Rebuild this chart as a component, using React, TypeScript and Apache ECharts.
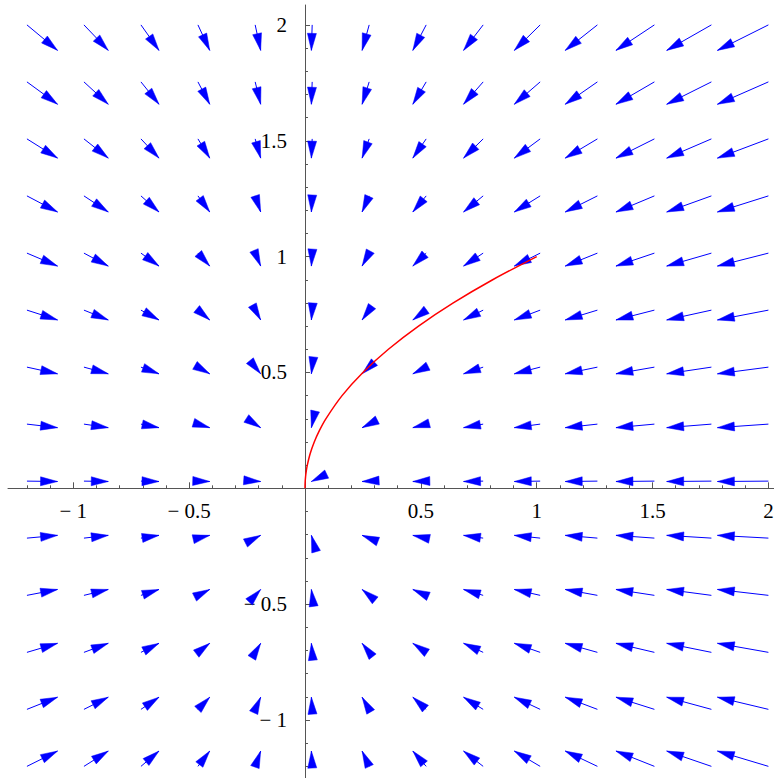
import React, { useEffect, useRef } from "react";
import * as echarts from "echarts";

// ---- data ----
// grid of arrow tails (same for x and y)
const colX = [-1.2, -0.954, -0.708, -0.462, -0.215, 0.031, 0.277, 0.523, 0.769, 1.015, 1.262, 1.508, 1.754, 2.0];
const rowY = [-1.2, -0.954, -0.708, -0.462, -0.215, 0.031, 0.277, 0.523, 0.769, 1.015, 1.262, 1.508, 1.754, 2.0];
// x-component of the field per column, y-component per row
const colU = [1.2, 0.954, 0.708, 0.462, 0.215, -0.031, -0.277, -0.523, -0.769, -1.015, -1.262, -1.508, -1.754, -2.0];
const rowV = [0.6, 0.477, 0.354, 0.231, 0.108, -0.015, -0.138, -0.262, -0.385, -0.508, -0.631, -0.754, -0.877, -1.0];
// red trajectory
const curveX = [0, 0.0006, 0.0025, 0.0056, 0.01, 0.0225, 0.04, 0.0625, 0.09, 0.16, 0.25, 0.36, 0.49, 0.64, 0.81, 1.0];
const curveY = [0, 0.025, 0.05, 0.075, 0.1, 0.15, 0.2, 0.25, 0.3, 0.4, 0.5, 0.6, 0.7, 0.8, 0.9, 1.0];
// ticks
const xMajor = [-1, -0.5, 0.5, 1, 1.5, 2];
const yMajor = [-1, -0.5, 0.5, 1, 1.5, 2];
const xMinor = [-1.2, -1.1, -0.9, -0.8, -0.7, -0.6, -0.4, -0.3, -0.2, -0.1, 0.1, 0.2, 0.3, 0.4, 0.6, 0.7, 0.8, 0.9, 1.1, 1.2, 1.3, 1.4, 1.6, 1.7, 1.8, 1.9];
const yMinor = [-1.2, -1.1, -0.9, -0.8, -0.7, -0.6, -0.4, -0.3, -0.2, -0.1, 0.1, 0.2, 0.3, 0.4, 0.6, 0.7, 0.8, 0.9, 1.1, 1.2, 1.3, 1.4, 1.6, 1.7, 1.8, 1.9];

// axis extents
const X_MIN = -1.2818;
const X_MAX = 2.0242;
const Y_MIN = -1.2503;
const Y_MAX = 2.0859;

const ARROW_SCALE = 0.11;
const HEAD_LEN = 17;
const HEAD_HALF = 4.5;
const BLUE = "#0000ff";
const AXIS_COLOR = "#555555";
const LABEL_FONT = "21px 'Liberation Serif', 'DejaVu Serif', serif";

const fmt = (v: number) => (v < 0 ? "\u2212 " + String(Math.abs(v)) : String(v));

export default function App() {
  const ref = useRef<HTMLDivElement>(null);
  useEffect(() => {
    if (!ref.current) return;
    const chart = echarts.init(ref.current, undefined, { renderer: "svg" });

    const arrowData: number[][] = [];
    for (let i = 0; i < colX.length; i++) {
      for (let j = 0; j < rowY.length; j++) {
        arrowData.push([colX[i], rowY[j], colU[i], rowV[j]]);
      }
    }
    const curveData = curveX.map((x, i) => [x, curveY[i]]);

    const axisBase = (min: number, max: number) => ({
      type: "value",
      min,
      max,
      axisLabel: { show: false },
      splitLine: { show: false },
    });

    const option: any = {
      animation: false,
      backgroundColor: "#ffffff",
      grid: { left: 8, right: 0, top: 5, bottom: 0, containLabel: false, outerBoundsMode: "none" },
      xAxis: [
        {
          ...axisBase(X_MIN, X_MAX),
          position: "bottom",
          axisLine: { show: true, onZero: true, onZeroAxisIndex: 0, lineStyle: { color: AXIS_COLOR, width: 1 } },
          axisTick: { show: true, inside: true, length: 6, customValues: xMajor, lineStyle: { color: AXIS_COLOR, width: 1 } },
        },
        {
          ...axisBase(X_MIN, X_MAX),
          position: "bottom",
          axisLine: { show: false, onZero: true, onZeroAxisIndex: 0 },
          axisTick: { show: true, inside: true, length: 3, customValues: xMinor, lineStyle: { color: AXIS_COLOR, width: 1 } },
        },
      ],
      yAxis: [
        {
          ...axisBase(Y_MIN, Y_MAX),
          position: "left",
          axisLine: { show: true, onZero: true, onZeroAxisIndex: 0, lineStyle: { color: AXIS_COLOR, width: 1 } },
          axisTick: { show: true, inside: true, length: 5, customValues: yMajor, lineStyle: { color: AXIS_COLOR, width: 1 } },
        },
        {
          ...axisBase(Y_MIN, Y_MAX),
          position: "left",
          axisLine: { show: false, onZero: true, onZeroAxisIndex: 0 },
          axisTick: { show: true, inside: true, length: 3, customValues: yMinor, lineStyle: { color: AXIS_COLOR, width: 1 } },
        },
      ],
      series: [
        {
          type: "custom",
          xAxisIndex: 0,
          yAxisIndex: 0,
          clip: false,
          z: 3,
          data: arrowData,
          renderItem: (params: any, api: any) => {
            const x = api.value(0);
            const y = api.value(1);
            const u = api.value(2);
            const v = api.value(3);
            const p0 = api.coord([x, y]);
            const p1 = api.coord([x + ARROW_SCALE * u, y + ARROW_SCALE * v]);
            const dx = p1[0] - p0[0];
            const dy = p1[1] - p0[1];
            const len = Math.hypot(dx, dy) || 1e-6;
            const ux = dx / len;
            const uy = dy / len;
            const bx = p1[0] - ux * HEAD_LEN;
            const by = p1[1] - uy * HEAD_LEN;
            const nx = -uy;
            const ny = ux;
            return {
              type: "group",
              children: [
                {
                  type: "line",
                  shape: { x1: p0[0], y1: p0[1], x2: p1[0], y2: p1[1] },
                  style: { stroke: BLUE, lineWidth: 1 },
                },
                {
                  type: "polygon",
                  shape: {
                    points: [
                      [p1[0], p1[1]],
                      [bx + nx * HEAD_HALF, by + ny * HEAD_HALF],
                      [bx - nx * HEAD_HALF, by - ny * HEAD_HALF],
                    ],
                  },
                  style: { fill: BLUE, stroke: BLUE, lineWidth: 0.5 },
                },
              ],
            };
          },
        },
        {
          type: "line",
          xAxisIndex: 0,
          yAxisIndex: 0,
          z: 4,
          data: curveData,
          showSymbol: false,
          symbol: "none",
          smooth: 0.3,
          lineStyle: { color: "#ff0000", width: 1.5 },
        },
        {
          // x tick labels
          type: "custom",
          xAxisIndex: 0,
          yAxisIndex: 0,
          clip: false,
          z: 2,
          data: xMajor.map((v) => [v, 0]),
          renderItem: (params: any, api: any) => {
            const val = api.value(0);
            const c = api.coord([val, 0]);
            return {
              type: "text",
              x: c[0],
              y: c[1] + 12,
              style: {
                text: fmt(val),
                font: LABEL_FONT,
                fill: "#000",
                align: "center",
                verticalAlign: "top",
              },
            };
          },
        },
        {
          // y tick labels
          type: "custom",
          xAxisIndex: 0,
          yAxisIndex: 0,
          clip: false,
          z: 2,
          data: yMajor.map((v) => [0, v]),
          renderItem: (params: any, api: any) => {
            const val = api.value(1);
            const c = api.coord([0, val]);
            return {
              type: "text",
              x: c[0] - 18,
              y: c[1],
              style: {
                text: fmt(val),
                font: LABEL_FONT,
                fill: "#000",
                align: "right",
                verticalAlign: "middle",
              },
            };
          },
        },
      ],
    };
    chart.setOption(option);
    return () => chart.dispose();
  }, []);

  return (
    <div
      ref={ref}
      style={{ position: "absolute", left: 0, top: 0, width: 774, height: 778, background: "#fff" }}
    />
  );
}
